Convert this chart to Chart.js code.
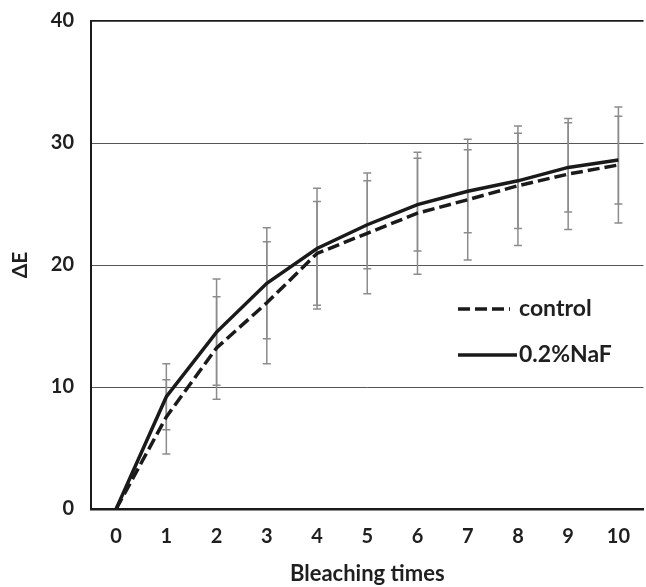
<!DOCTYPE html>
<html>
<head>
  <meta charset="utf-8" />
  <script src="https://cdn.jsdelivr.net/npm/chart.js@4.4.0/dist/chart.umd.min.js"></script>
  <style>
    body { margin: 0; background: #fff; }
    #wrap { width: 646px; height: 587px; }
  </style>
</head>
<body>
<div id="wrap"><canvas id="chart" width="646" height="587"></canvas></div>

<script>
/* ---------- Data ---------- */
const times = ['0', '1', '2', '3', '4', '5', '6', '7', '8', '9', '10'];
const control   = [0, 7.55, 13.2, 16.9, 20.95, 22.6, 24.25, 25.35, 26.5, 27.45, 28.2];
const controlSd = [0, 3.05, 4.2, 5.0, 4.25, 4.95, 5.0, 4.95, 4.9, 4.55, 4.75];
const naf       = [0, 9.2, 14.5, 18.5, 21.35, 23.3, 24.95, 26.05, 26.9, 28.0, 28.6];
const nafSd     = [0, 2.7, 4.35, 4.55, 4.95, 3.6, 3.8, 3.4, 3.9, 3.65, 3.6];
const yMin = 0, yMax = 40, yStep = 10;

/* ---------- Plugins ---------- */
// SD error bars, drawn under the lines
const errorBars = {
  id: 'errorBars',
  beforeDatasetsDraw(chart) {
    const { ctx, scales: { x, y } } = chart;
    ctx.save();
    ctx.strokeStyle = '#8c8c8c';
    ctx.lineWidth = 1.5;
    chart.data.datasets.forEach(ds => {
      ds.data.forEach((v, i) => {
        const sd = ds.sd[i];
        if (!sd) return;
        const px = x.getPixelForValue(i);
        const top = y.getPixelForValue(v + sd), bot = y.getPixelForValue(v - sd);
        ctx.beginPath();
        ctx.moveTo(px, top); ctx.lineTo(px, bot);
        ctx.moveTo(px - 4, top); ctx.lineTo(px + 4, top);
        ctx.moveTo(px - 4, bot); ctx.lineTo(px + 4, bot);
        ctx.stroke();
      });
    });
    ctx.restore();
  }
};

// legend inside the plot, lower right
const innerLegend = {
  id: 'innerLegend',
  afterDraw(chart) {
    const { ctx, chartArea } = chart;
    const x0 = chartArea.left + 367;
    const rows = [
      { ds: chart.data.datasets[0], y: chartArea.top + 288, len: 52 },
      { ds: chart.data.datasets[1], y: chartArea.top + 334, len: 59 }
    ];
    ctx.save();
    ctx.font = 'bold 23px Lato';
    ctx.fillStyle = '#1f1f1f';
    ctx.textBaseline = 'middle';
    rows.forEach(r => {
      ctx.beginPath();
      ctx.strokeStyle = r.ds.borderColor;
      ctx.lineWidth = r.ds.borderWidth;
      ctx.setLineDash(r.ds.borderDash || []);
      ctx.moveTo(x0, r.y); ctx.lineTo(x0 + r.len, r.y);
      ctx.stroke();
      ctx.fillText(r.ds.label, x0 + 61, r.y);
    });
    ctx.restore();
  }
};

/* ---------- Chart ---------- */
Chart.defaults.font.family = 'Lato';
Chart.defaults.font.weight = 'bold';
Chart.defaults.font.size = 20;
Chart.defaults.color = '#1f1f1f';

new Chart(document.getElementById('chart'), {
  type: 'line',
  data: {
    labels: times,
    datasets: [
      { label: 'control', data: control, sd: controlSd, borderColor: '#1a1a1a', borderWidth: 3.5,
        borderDash: [12, 5], pointRadius: 0, tension: 0 },
      { label: '0.2%NaF', data: naf, sd: nafSd, borderColor: '#1a1a1a', borderWidth: 3.5,
        pointRadius: 0, tension: 0 }
    ]
  },
  options: {
    responsive: false,
    animation: false,
    devicePixelRatio: 1,
    layout: { padding: { top: 21, right: 0, left: 0, bottom: 0 } },
    plugins: { legend: { display: false }, tooltip: { enabled: false } },
    scales: {
      x: {
        offset: true,
        grid: { display: false, drawTicks: false },
        border: { display: true, color: '#1a1a1a', width: 2.5 },
        ticks: { padding: 16, maxRotation: 0 },
        title: { display: true, text: 'Bleaching times', font: { size: 22 }, padding: { top: 0, bottom: 0 } },
        afterFit: s => { s.height = 78; }
      },
      y: {
        min: yMin, max: yMax,
        grid: {
          drawTicks: false,
          color: c => c.tick && c.tick.value === yMax ? '#1a1a1a' : '#555',
          lineWidth: c => c.tick && c.tick.value === yMax ? 1.8 : 1
        },
        border: { display: true, color: '#1a1a1a', width: 2 },
        ticks: { stepSize: yStep, padding: 17 },
        title: { display: true, text: 'ΔE', font: { size: 21 }, padding: { top: 8, bottom: 0 } },
        afterFit: s => { s.width = 91; s.paddingTop = 0; s.paddingBottom = 0; }
      }
    }
  },
  plugins: [errorBars, innerLegend]
});
</script>
</body>
</html>
